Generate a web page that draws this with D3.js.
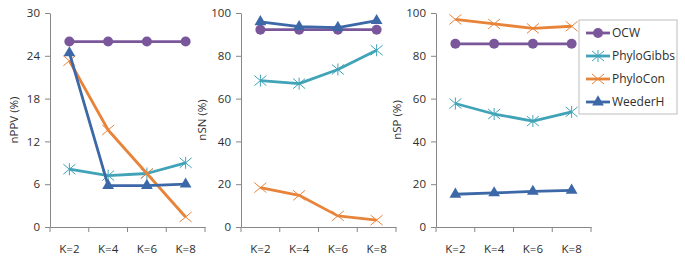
<!DOCTYPE html>
<html>
<head>
<meta charset="utf-8">
<script src="https://cdn.jsdelivr.net/npm/d3@7"></script>
<style>
  body { margin: 0; background: #fff; }
  svg text { font-family: "Open Sans", "Noto Sans", sans-serif; fill: #2e2e2e; }
</style>
</head>
<body>
<div id="chart"></div>
<script>
// Data
const categories = ["K=2", "K=4", "K=6", "K=8"];
const seriesNames = ["OCW", "PhyloGibbs", "PhyloCon", "WeederH"];

const nPPV_OCW = [26, 26, 26, 26];
const nPPV_PhyloGibbs = [8.1, 7.2, 7.5, 9.0];
const nPPV_PhyloCon = [23.3, 13.6, 7.5, 1.4];
const nPPV_WeederH = [24.4, 5.8, 5.8, 6.0];

const nSN_OCW = [92.2, 92.2, 92.2, 92.2];
const nSN_PhyloGibbs = [68.4, 67.0, 73.6, 82.6];
const nSN_PhyloCon = [18.4, 14.8, 5.2, 3.2];
const nSN_WeederH = [95.9, 93.6, 93.2, 96.4];

const nSP_OCW = [85.6, 85.6, 85.6, 85.6];
const nSP_PhyloGibbs = [57.7, 52.8, 49.5, 53.8];
const nSP_PhyloCon = [97.0, 94.9, 92.8, 93.8];
const nSP_WeederH = [15.3, 15.9, 16.6, 17.1];

const ticksPPV = [0, 6, 12, 18, 24, 30];
const ticksPct = [0, 20, 40, 60, 80, 100];

const colors = {OCW: "#7a579b", PhyloGibbs: "#40a3b7", PhyloCon: "#e8843a", WeederH: "#3d68a8"};
const markers = {OCW: "circle", PhyloGibbs: "star", PhyloCon: "cross", WeederH: "triangle"};

const panels = [
    {label: "nPPV (%)", max: 30, ticks: ticksPPV, x0: 50, labelX: 14,
     data: [nPPV_OCW, nPPV_PhyloGibbs, nPPV_PhyloCon, nPPV_WeederH]},
    {label: "nSN (%)", max: 100, ticks: ticksPct, x0: 241, labelX: 202,
     data: [nSN_OCW, nSN_PhyloGibbs, nSN_PhyloCon, nSN_WeederH]},
    {label: "nSP (%)", max: 100, ticks: ticksPct, x0: 436, labelX: 397,
     data: [nSP_OCW, nSP_PhyloGibbs, nSP_PhyloCon, nSP_WeederH]}
];

const width = 685, height = 258;
const plotTop = 13, plotBottom = 227, plotW = 155;

const svg = d3.select("#chart").append("svg")
    .attr("width", width)
    .attr("height", height);

function drawMarker(g, type, color) {
    if (type === "circle") {
        g.append("circle").attr("r", 5).attr("fill", color);
    } else if (type === "triangle") {
        g.append("path").attr("d", d3.symbol(d3.symbolTriangle, 60)()).attr("fill", color);
    } else if (type === "cross") {
        g.append("path").attr("d", "M-6,-5L6,5M-6,5L6,-5")
            .attr("stroke", color).attr("stroke-width", 1);
    } else if (type === "star") {
        g.append("path").attr("d", "M-6,-5L6,5M-6,5L6,-5M0,-6L0,6")
            .attr("stroke", color).attr("stroke-width", 1);
    }
}

panels.forEach(p => {
    const x = d3.scaleBand().domain(categories).range([p.x0, p.x0 + plotW]);
    const y = d3.scaleLinear().domain([0, p.max]).range([plotBottom, plotTop]);
    const g = svg.append("g");

    // y axis
    const yAxis = g.append("g")
        .attr("transform", `translate(${p.x0},0)`)
        .call(d3.axisLeft(y).tickValues(p.ticks).tickSize(5).tickSizeOuter(0));
    yAxis.select(".domain").attr("stroke", "#878787");
    yAxis.selectAll(".tick line").attr("stroke", "#878787");
    yAxis.selectAll(".tick text").attr("x", -10).style("font-size", "11.5px");

    // x axis
    const xAxis = g.append("g")
        .attr("transform", `translate(0,${plotBottom})`)
        .call(d3.axisBottom(x).tickSize(0).tickSizeOuter(0));
    xAxis.select(".domain").attr("stroke", "#878787");
    xAxis.selectAll(".tick text").attr("dy", "2em").style("font-size", "11.5px");
    // category separators
    g.selectAll(".sep")
        .data(categories.concat(["end"]))
        .enter()
        .append("line")
        .attr("x1", (d, i) => p.x0 + i * x.step())
        .attr("x2", (d, i) => p.x0 + i * x.step())
        .attr("y1", plotBottom)
        .attr("y2", plotBottom + 5)
        .attr("stroke", "#878787");

    // axis title
    g.append("text")
        .attr("transform", `translate(${p.labelX},${(plotTop + plotBottom) / 2}) rotate(-90)`)
        .attr("text-anchor", "middle")
        .attr("dy", "0.35em")
        .style("font-size", "11.5px")
        .text(p.label);

    const line = d3.line()
        .x((d, i) => x(categories[i]) + x.bandwidth() / 2)
        .y(d => y(d));

    seriesNames.forEach((name, si) => {
        const vals = p.data[si];
        g.append("path")
            .datum(vals)
            .attr("fill", "none")
            .attr("stroke", colors[name])
            .attr("stroke-width", 2.8)
            .attr("stroke-linejoin", "round")
            .attr("d", line);
        vals.forEach((v, i) => {
            const m = g.append("g")
                .attr("transform", `translate(${x(categories[i]) + x.bandwidth() / 2},${y(v)})`);
            drawMarker(m, markers[name], colors[name]);
        });
    });
});

// Legend
const legend = svg.append("g").attr("transform", "translate(579,20)");
legend.append("rect")
    .attr("width", 98).attr("height", 94)
    .attr("fill", "#fff").attr("stroke", "#bdbdbd");
seriesNames.forEach((name, i) => {
    const ly = 13 + i * 23;
    const row = legend.append("g").attr("transform", `translate(0,${ly})`);
    row.append("line")
        .attr("x1", 7).attr("x2", 31)
        .attr("stroke", colors[name]).attr("stroke-width", 2.8);
    const m = row.append("g").attr("transform", "translate(19,0)");
    drawMarker(m, markers[name], colors[name]);
    row.append("text")
        .attr("x", 33).attr("dy", "0.35em")
        .style("font-size", "12px")
        .text(name);
});
</script>
</body>
</html>
